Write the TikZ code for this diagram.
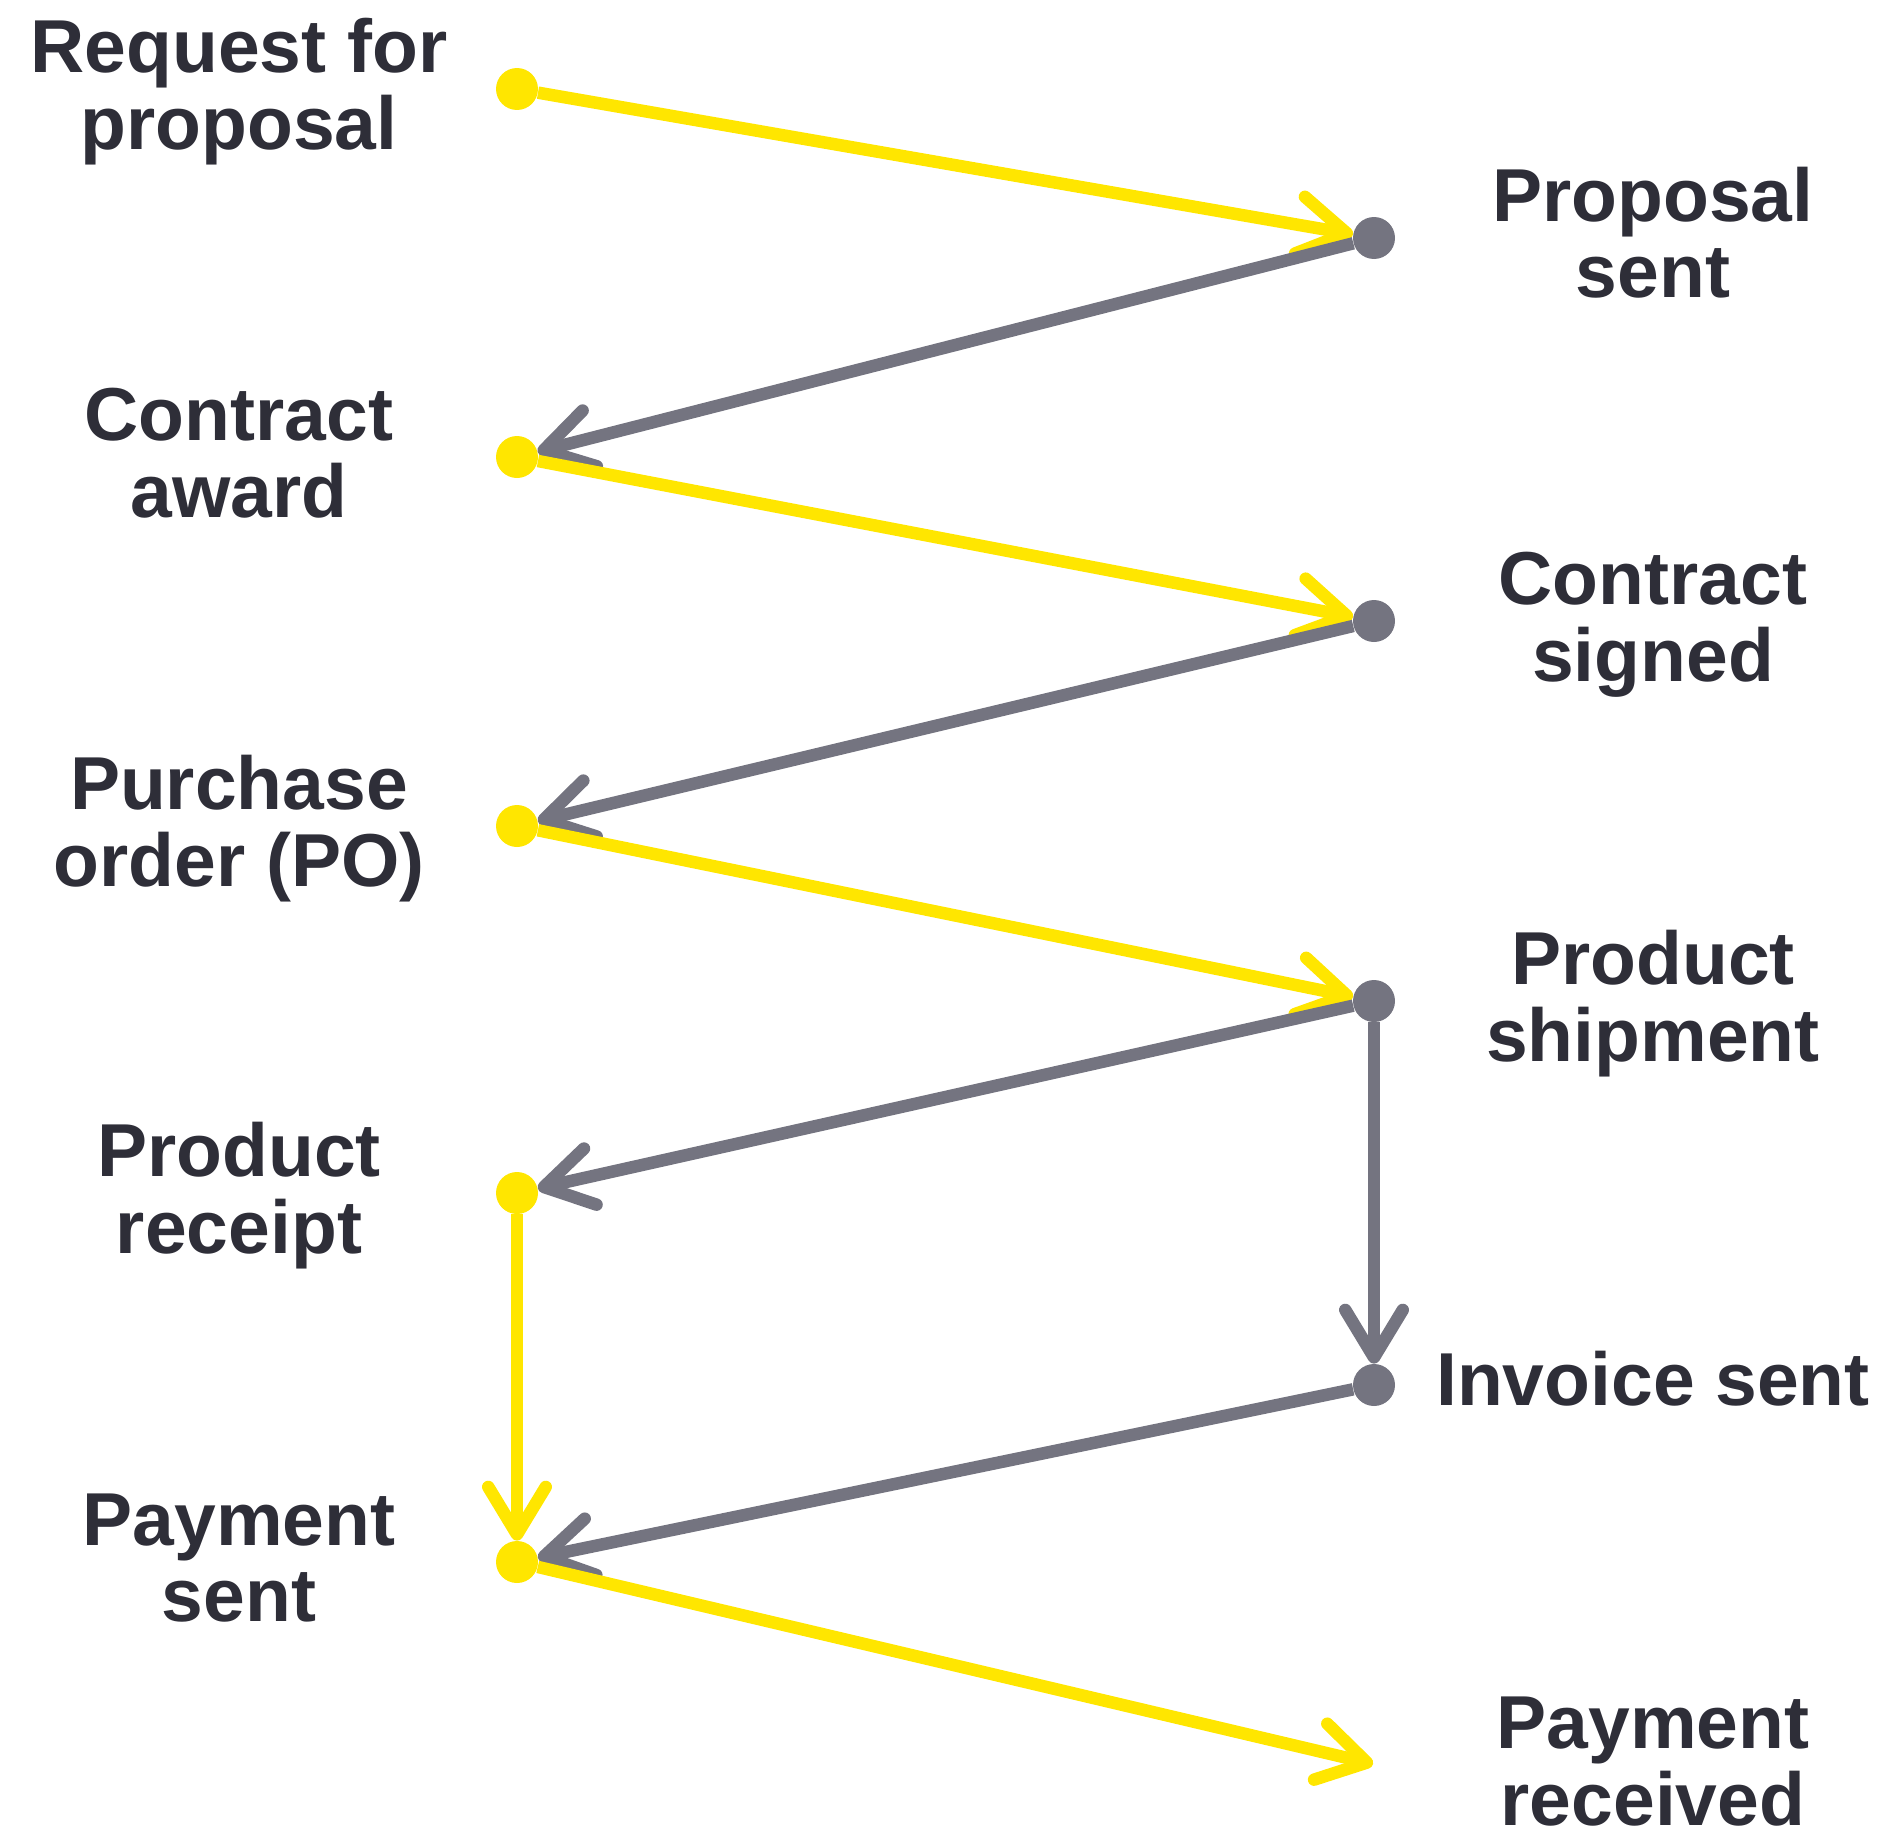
\documentclass[tikz,border=0pt]{standalone}
\usepackage{fontspec}
\setmainfont{Liberation Sans}
\usetikzlibrary{arrows.meta}

\definecolor{eyyellow}{HTML}{FFE600}
\definecolor{eygray}{HTML}{747480}
\definecolor{eydark}{HTML}{2E2E38}

\newcommand{\lbltwo}[2]{\begin{tabular}[t]{@{}c@{}}#1\\#2\end{tabular}}

\tikzset{
    dot/.style = {circle, inner sep=0pt, minimum size=0.84cm},
    ydot/.style = {dot, fill=eyyellow},
    gdot/.style = {dot, fill=eygray},
    lbl/.style = {anchor=base, inner sep=0pt, text=eydark,
        font=\bfseries\fontsize{42.7}{43.8}\selectfont},
    flow/.style = {line width=0.25cm,
        -{Straight Barb[length=0.95cm, width=1.15cm, round]}},
    yflow/.style = {flow, draw=eyyellow},
    gflow/.style = {flow, draw=eygray}
}

\begin{document}
\begin{tikzpicture}[x=0.02cm, y=-0.02cm]
    \useasboundingbox (0, 0) rectangle (1887, 1829);

    % buyer side
    \node[ydot] (rfp) at (517, 89) {};
    \node[ydot] (award) at (517, 457) {};
    \node[ydot] (po) at (517, 826) {};
    \node[ydot] (receipt) at (517, 1193) {};
    \node[ydot] (paysent) at (517, 1562) {};

    % seller side
    \node[gdot] (prop) at (1374, 238) {};
    \node[gdot] (signed) at (1374, 621) {};
    \node[gdot] (ship) at (1374, 1001) {};
    \node[gdot] (invoice) at (1374, 1385) {};
    \coordinate (payrec) at (1373, 1764);

    % labels
    \node[lbl] (rfplbl) at (239, 72) {\lbltwo{Request for}{proposal}};
    \node[lbl] (awardlbl) at (239, 440) {\lbltwo{Contract}{award}};
    \node[lbl] (polbl) at (239, 809) {\lbltwo{Purchase}{order (PO)}};
    \node[lbl] (receiptlbl) at (239, 1176) {\lbltwo{Product}{receipt}};
    \node[lbl] (paysentlbl) at (239, 1545) {\lbltwo{Payment}{sent}};
    \node[lbl] (proplbl) at (1653, 221) {\lbltwo{Proposal}{sent}};
    \node[lbl] (signedlbl) at (1653, 604) {\lbltwo{Contract}{signed}};
    \node[lbl] (shiplbl) at (1653, 984) {\lbltwo{Product}{shipment}};
    \node[lbl] (invoicelbl) at (1653, 1405) {Invoice sent};
    \node[lbl] (payreclbl) at (1653, 1748) {\lbltwo{Payment}{received}};

    % flow
    \draw[yflow] (rfp) -- (prop);
    \draw[gflow] (prop) -- (award);
    \draw[yflow] (award) -- (signed);
    \draw[gflow] (signed) -- (po);
    \draw[yflow] (po) -- (ship);
    \draw[gflow] (ship) -- (receipt);
    \draw[gflow] (ship) -- (invoice);
    \draw[yflow] (receipt) -- (paysent);
    \draw[gflow] (invoice) -- (paysent);
    \draw[yflow] (paysent) -- (payrec);
\end{tikzpicture}
\end{document}
